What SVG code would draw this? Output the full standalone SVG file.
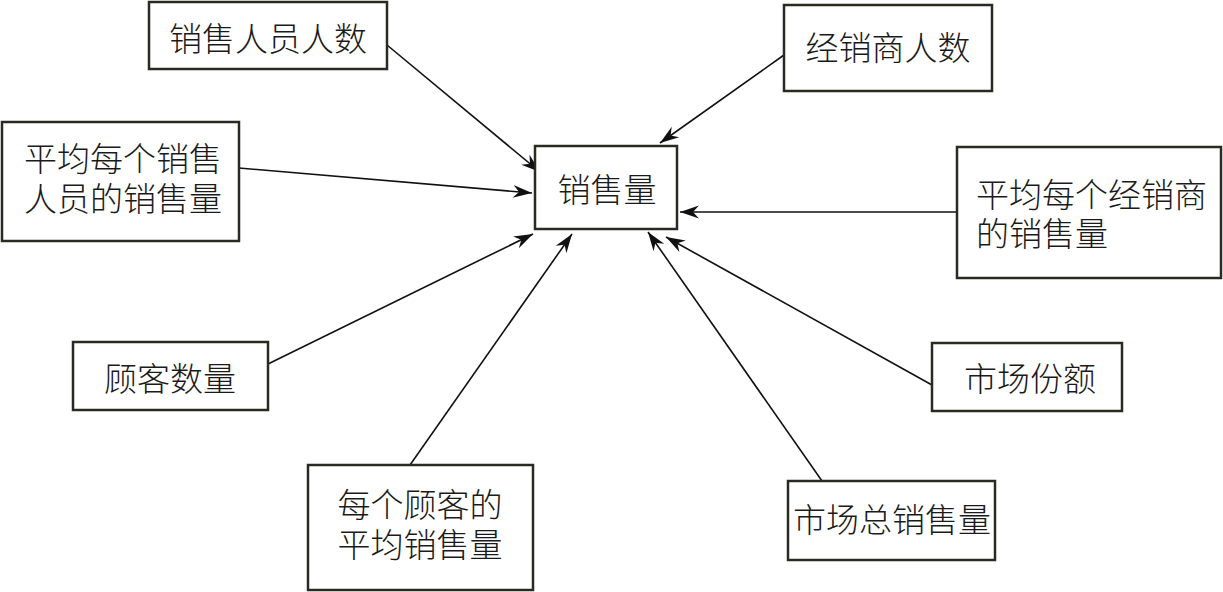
<svg xmlns="http://www.w3.org/2000/svg" width="1223" height="592" viewBox="0 0 1223 592">
<defs>
<marker id="arr" viewBox="-20 -8 22 16" refX="0" refY="0" markerWidth="22" markerHeight="16" markerUnits="userSpaceOnUse" orient="auto">
<path d="M0,0 L-19,-6.5 L-13,0 L-19,6.5 Z" fill="#111"/>
</marker>
</defs>
<style>
.box{fill:#fff;stroke:#2a2a20;stroke-width:2.5}
.t{font-family:"Noto Sans CJK SC","Noto Sans CJK JP",sans-serif;font-size:33px;font-weight:300;fill:#1a1a1a;dominant-baseline:central}
.c{text-anchor:middle}
.ln{stroke:#111;stroke-width:1.6;fill:none;marker-end:url(#arr)}
</style>
<rect width="1223" height="592" fill="#fff"/>
<g id="connectors">
<line class="ln" x1="387" y1="45" x2="540" y2="172"/>
<line class="ln" x1="784" y1="55" x2="660" y2="143"/>
<line class="ln" x1="239" y1="168" x2="532" y2="193"/>
<line class="ln" x1="957" y1="212" x2="680" y2="212"/>
<line class="ln" x1="268" y1="364" x2="533" y2="234"/>
<line class="ln" x1="410" y1="465" x2="572" y2="234"/>
<line class="ln" x1="822" y1="481" x2="648" y2="232"/>
<line class="ln" x1="932" y1="385" x2="666" y2="237"/>
</g>
<g id="n-center">
<rect class="box" x="535" y="146" width="142" height="83"/>
<text class="t c" x="607" y="188">销售量</text>
</g>
<g id="n-salespeople">
<rect class="box" x="149" y="2" width="238" height="67"/>
<text class="t c" x="268" y="37">销售人员人数</text>
</g>
<g id="n-dealers">
<rect class="box" x="784" y="5" width="208" height="86"/>
<text class="t c" x="888" y="46">经销商人数</text>
</g>
<g id="n-avg-salesperson">
<rect class="box" x="2" y="122" width="237" height="119"/>
<text class="t" x="24" y="157">平均每个销售<tspan x="24" y="197">人员的销售量</tspan></text>
</g>
<g id="n-avg-dealer">
<rect class="box" x="957" y="147" width="264" height="131"/>
<text class="t" x="976" y="193">平均每个经销商<tspan x="976" y="232">的销售量</tspan></text>
</g>
<g id="n-customers">
<rect class="box" x="73" y="342" width="195" height="68"/>
<text class="t c" x="170" y="377">顾客数量</text>
</g>
<g id="n-avg-customer">
<rect class="box" x="308" y="465" width="225" height="125"/>
<text class="t c" x="420" y="503">每个顾客的<tspan x="420" y="543">平均销售量</tspan></text>
</g>
<g id="n-market-total">
<rect class="box" x="788" y="481" width="207" height="79"/>
<text class="t c" x="892" y="518">市场总销售量</text>
</g>
<g id="n-market-share">
<rect class="box" x="932" y="343" width="190" height="68"/>
<text class="t c" x="1030" y="377">市场份额</text>
</g>
</svg>
